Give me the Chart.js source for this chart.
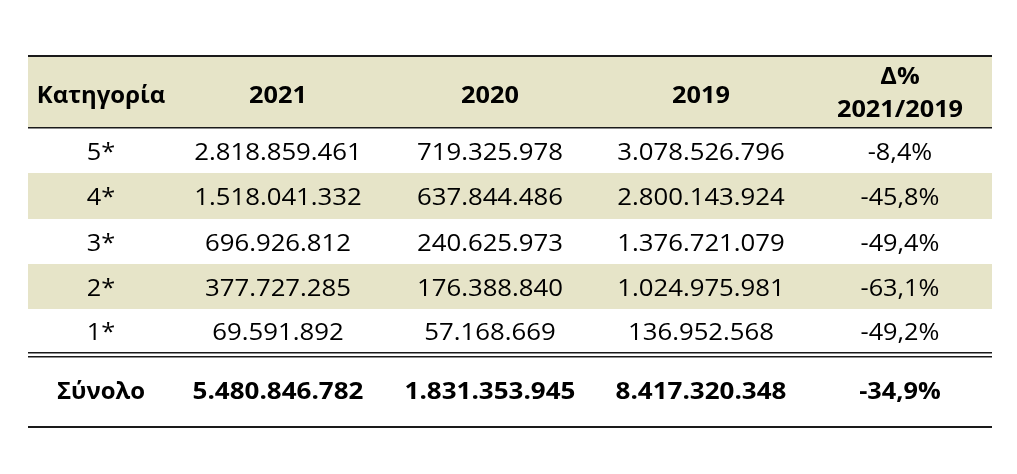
<!DOCTYPE html>
<html>
<head>
<meta charset="utf-8">
<script src="https://cdn.jsdelivr.net/npm/chart.js@4"></script>
<style>
html,body{margin:0;padding:0;background:#fff;}
#wrap{width:1017px;height:474px;position:relative;}
</style>
</head>
<body>
<div id="wrap"><canvas id="c"></canvas></div>
<script>
// ---- data ----
const headerLabels = ['Κατηγορία', '2021', '2020', '2019', 'Δ%\n2021/2019'];
const categories = ['5*', '4*', '3*', '2*', '1*'];
const values2021 = [2818859461, 1518041332, 696926812, 377727285, 69591892];
const values2020 = [719325978, 637844486, 240625973, 176388840, 57168669];
const values2019 = [3078526796, 2800143924, 1376721079, 1024975981, 136952568];
const deltaPct = [-8.4, -45.8, -49.4, -63.1, -49.2];
const totalLabel = 'Σύνολο';
const totals = [5480846782, 1831353945, 8417320348];
const totalDelta = -34.9;

// ---- layout (style, not data) ----
const colCenters = [73, 250, 462, 673, 872];      // x units inside table (0..964)
const rowEdges = [73, 118, 164, 209, 254, 297];    // y units for data rows
const BEIGE = '#E6E4C8';
const LINE = '#1a1a1a';
const FONT = '"Open Sans","Noto Sans",sans-serif';

function fmtInt(n) {
  return String(n).replace(/\B(?=(\d{3})+(?!\d))/g, '.');
}
function fmtPct(p) {
  return p.toFixed(1).replace('.', ',') + '%';
}

const tablePlugin = {
  id: 'table',
  beforeDatasetsDraw(chart) {
    const ctx = chart.ctx;
    const xs = chart.scales.x, ys = chart.scales.y;
    const X = v => xs.getPixelForValue(v);
    const Y = v => ys.getPixelForValue(v);
    const L = X(0), R = X(964);

    ctx.save();
    ctx.fillStyle = BEIGE;
    ctx.fillRect(L, Y(2), R - L, Y(72) - Y(2));
    for (let i = 0; i < categories.length; i++) {
      if (i % 2 === 1) ctx.fillRect(L, Y(rowEdges[i]), R - L, Y(rowEdges[i + 1]) - Y(rowEdges[i]));
    }
    ctx.fillStyle = LINE;
    ctx.fillRect(L, Y(0), R - L, 2);
    ctx.fillRect(L, Y(72), R - L, 1.5);
    ctx.fillRect(L, Y(297), R - L, 1.5);
    ctx.fillRect(L, Y(301), R - L, 1.5);
    ctx.fillRect(L, Y(371), R - L, 2);

    function txt(s, cx, cy, bold, sx) {
      ctx.save();
      ctx.font = (bold ? 'bold ' : '') + '23px ' + FONT;
      ctx.fillStyle = '#000';
      ctx.textAlign = 'center';
      ctx.textBaseline = 'middle';
      ctx.translate(cx, cy);
      ctx.scale(sx || 1.1, 1);
      ctx.fillText(s, 0, 0);
      ctx.restore();
    }

    headerLabels.forEach((h, c) => {
      const lines = h.split('\n');
      const sx = c === 0 ? 1.04 : 1.1;
      if (lines.length === 1) {
        txt(lines[0], X(colCenters[c]), Y(41), true, sx);
      } else {
        txt(lines[0], X(colCenters[c]), Y(22), true, sx);
        txt(lines[1], X(colCenters[c]), Y(55), true, sx);
      }
    });
    categories.forEach((cat, i) => {
      const cy = (Y(rowEdges[i]) + Y(rowEdges[i + 1])) / 2 + 2.5;
      txt(cat, X(colCenters[0]), cy, false);
      txt(fmtInt(values2021[i]), X(colCenters[1]), cy, false, 1.12);
      txt(fmtInt(values2020[i]), X(colCenters[2]), cy, false, 1.12);
      txt(fmtInt(values2019[i]), X(colCenters[3]), cy, false, 1.12);
      txt(fmtPct(deltaPct[i]), X(colCenters[4]), cy, false);
    });
    const ty = Y(337);
    txt(totalLabel, X(colCenters[0]), ty, true, 1.04);
    totals.forEach((t, k) => txt(fmtInt(t), X(colCenters[k + 1]), ty, true, 1.13));
    txt(fmtPct(totalDelta), X(colCenters[4]), ty, true);
    ctx.restore();
  }
};

new Chart(document.getElementById('c'), {
  type: 'scatter',
  data: { datasets: [{ data: [], pointRadius: 0 }] },
  options: {
    responsive: true,
    maintainAspectRatio: false,
    animation: false,
    events: [],
    layout: { padding: { left: 28, right: 25, top: 55, bottom: 46 } },
    plugins: { legend: { display: false }, tooltip: { enabled: false } },
    scales: {
      x: { type: 'linear', min: 0, max: 964, display: false },
      y: { type: 'linear', min: 0, max: 373, reverse: true, display: false }
    }
  },
  plugins: [tablePlugin]
});
</script>
</body>
</html>
